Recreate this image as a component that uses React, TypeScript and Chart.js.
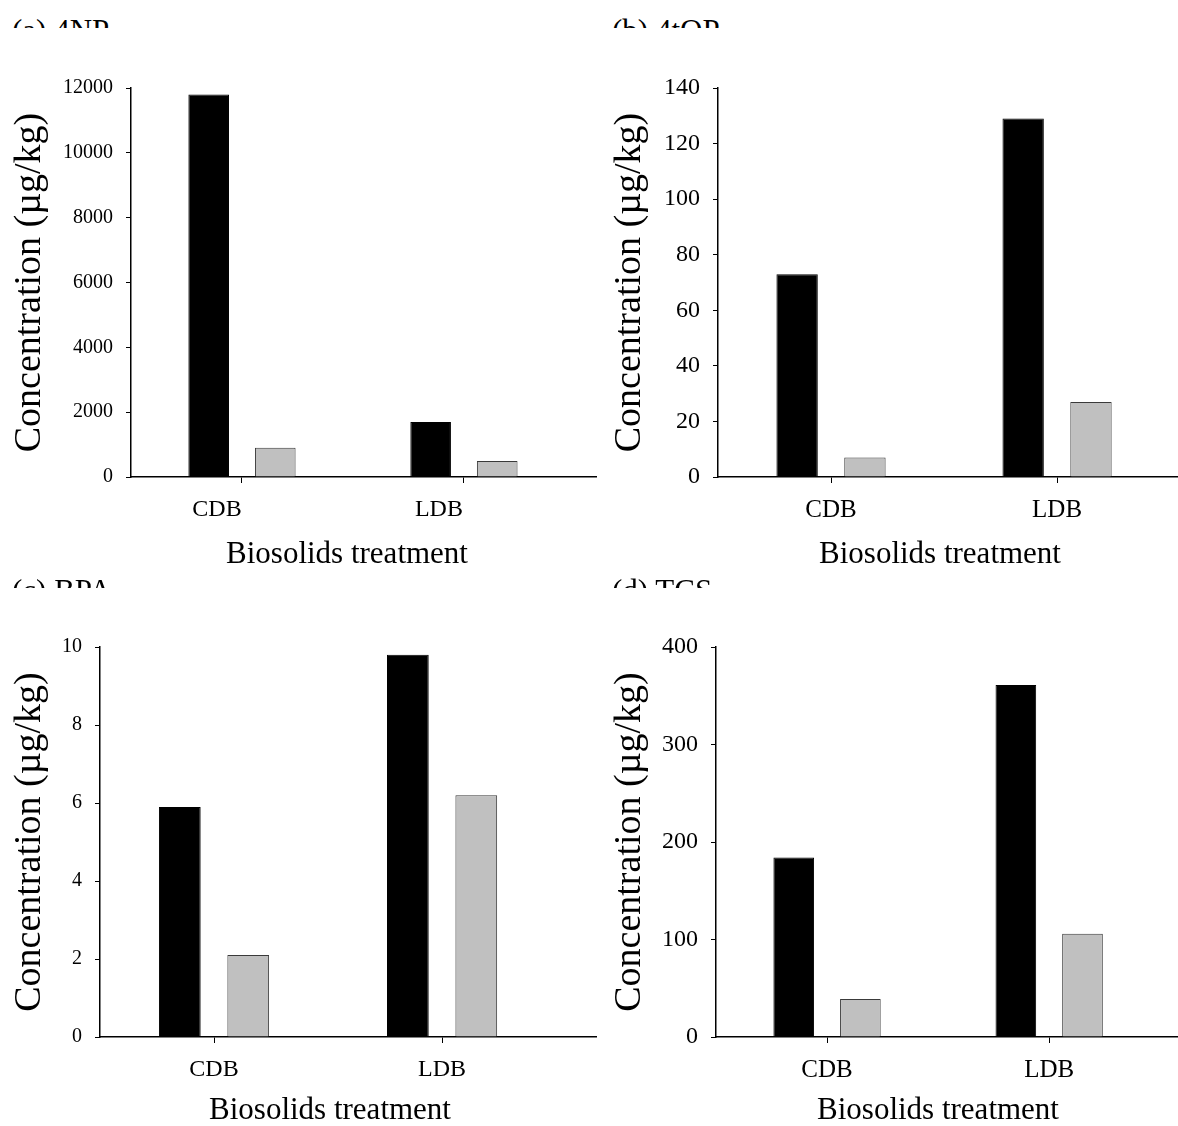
import React, { useEffect, useRef } from "react";
import { Chart, registerables } from "chart.js";

Chart.register(...registerables);

// ---- data ----
const categories = ["CDB", "LDB"];
const panelTitles = ["(a) 4NP", "(b) 4tOP", "(c) BPA", "(d) TCS"];
const xAxisTitle = "Biosolids treatment";
const yAxisTitle = "Concentration (µg/kg)";

const blackNP = [11800, 1700];
const grayNP = [900, 490];
const blackOP = [73, 129];
const grayOP = [7, 27];
const blackBPA = [5.9, 9.8];
const grayBPA = [2.1, 6.2];
const blackTCS = [184, 361];
const grayTCS = [39, 106];

const yMaxes = [12000, 140, 10, 400];
const ySteps = [2000, 20, 2, 100];

const blackSeries = [blackNP, blackOP, blackBPA, blackTCS];
const graySeries = [grayNP, grayOP, grayBPA, grayTCS];

// ---- layout (page pixels) ----
type Layout = {
  L: number; T: number; W: number; H: number;
  areaLeft: number; areaTop: number; areaRight: number; areaBottom: number;
  xMax: number; tickFont: number; catFont: number; catOffset: number; yTitlePad: number;
  titleLeft: number; titleClipTop: number; xTitleX: number; xTitleY: number;
};

const layouts: Layout[] = [
  { L: 0, T: 30, W: 600, H: 540, areaLeft: 131, areaTop: 88, areaRight: 596, areaBottom: 477, xMax: 2.095, tickFont: 20, catFont: 24, catOffset: -25, yTitlePad: 11, titleLeft: 12, titleClipTop: 0, xTitleX: 347, xTitleY: 555 },
  { L: 590, T: 30, W: 588, H: 540, areaLeft: 718, areaTop: 88, areaRight: 1178, areaBottom: 477, xMax: 2.035, tickFont: 24, catFont: 25, catOffset: 0, yTitlePad: 21, titleLeft: 612, titleClipTop: 0, xTitleX: 940, xTitleY: 555 },
  { L: 0, T: 590, W: 600, H: 536, areaLeft: 100, areaTop: 647, areaRight: 596, areaBottom: 1037, xMax: 2.175, tickFont: 20, catFont: 24, catOffset: 0, yTitlePad: 11, titleLeft: 12, titleClipTop: 560, xTitleX: 330, xTitleY: 1111 },
  { L: 590, T: 590, W: 588, H: 536, areaLeft: 716, areaTop: 647, areaRight: 1178, areaBottom: 1037, xMax: 2.08, tickFont: 24, catFont: 25, catOffset: 0, yTitlePad: 21, titleLeft: 612, titleClipTop: 560, xTitleX: 938, xTitleY: 1111 },
];

const FONT = "'Liberation Serif', 'Times New Roman', serif";

const xTitlePlugin = {
  id: "xTitleText",
  afterDraw(chart: any, _args: any, opts: any) {
    const ctx = chart.ctx;
    ctx.save();
    ctx.font = `${opts.size}px ${FONT}`;
    ctx.fillStyle = "#000";
    ctx.textAlign = "center";
    ctx.textBaseline = "middle";
    ctx.fillText(opts.text, opts.x, opts.y);
    ctx.restore();
  },
};

function Panel({ idx }: { idx: number }) {
  const ref = useRef<HTMLCanvasElement | null>(null);
  const lay = layouts[idx];

  useEffect(() => {
    if (!ref.current) return;
    const yAxisWidth = lay.areaLeft - lay.L;
    const xAxisHeight = lay.T + lay.H - lay.areaBottom;
    const chart = new Chart(ref.current, {
      type: "bar",
      data: {
        datasets: [
          {
            data: blackSeries[idx].map((v, i) => ({ x: i + 0.5, y: v })),
            backgroundColor: "#000000",
            borderColor: "#000000",
            borderWidth: 1,
          },
          {
            data: graySeries[idx].map((v, i) => ({ x: i + 0.5, y: v })),
            backgroundColor: "#c0c0c0",
            borderColor: "#3a3a3a",
            borderWidth: 1,
          },
        ],
      },
      plugins: [xTitlePlugin],
      options: {
        animation: false,
        responsive: false,
        maintainAspectRatio: false,
        categoryPercentage: 0.6,
        barPercentage: 0.61,
        layout: {
          padding: {
            left: 0,
            top: lay.areaTop - lay.T,
            right: lay.L + lay.W - lay.areaRight,
            bottom: 0,
          },
        },
        plugins: {
          legend: { display: false },
          tooltip: { enabled: false },
          title: { display: false },
          xTitleText: {
            text: xAxisTitle,
            size: 31,
            x: lay.xTitleX - lay.L,
            y: lay.xTitleY - lay.T,
          },
        },
        scales: {
          x: {
            type: "linear",
            offset: false,
            min: 0,
            max: lay.xMax,
            afterBuildTicks: (s: any) => {
              s.ticks = categories.map((_, i) => ({ value: i + 0.5 }));
            },
            afterFit: (s: any) => {
              s.height = xAxisHeight;
            },
            ticks: {
              autoSkip: false,
              maxRotation: 0,
              padding: 12,
              labelOffset: lay.catOffset,
              color: "#000",
              font: { family: FONT, size: lay.catFont },
              callback: (v: any) => categories[Math.round(Number(v) - 0.5)] ?? "",
            },
            grid: { offset: false, drawOnChartArea: false, drawTicks: true, tickLength: 6, color: "#000" },
            border: { display: true, color: "#000", width: 1.5 },
            title: { display: false },
          },
          y: {
            type: "linear",
            min: 0,
            max: yMaxes[idx],
            afterFit: (s: any) => {
              s.width = yAxisWidth;
            },
            ticks: {
              stepSize: ySteps[idx],
              padding: 13,
              color: "#000",
              font: { family: FONT, size: lay.tickFont },
              callback: (v: any) => String(v),
            },
            grid: { drawOnChartArea: false, drawTicks: true, tickLength: 5, color: "#000" },
            border: { display: true, color: "#000", width: 1.5 },
            title: {
              display: true,
              text: yAxisTitle,
              color: "#000",
              font: { family: FONT, size: 38, lineHeight: 1 },
              padding: { top: lay.yTitlePad, bottom: 0 },
            },
          },
        },
      },
    } as any);
    return () => chart.destroy();
  }, [idx]);

  return (
    <>
      <div
        style={{
          position: "absolute",
          left: lay.titleLeft,
          top: lay.titleClipTop,
          width: 300,
          height: 28,
          overflow: "hidden",
        }}
      >
        <span
          style={{
            position: "absolute",
            left: 0,
            top: 14.6,
            fontFamily: FONT,
            fontSize: 31,
            lineHeight: 1,
            whiteSpace: "nowrap",
            color: "#000",
          }}
        >
          {panelTitles[idx]}
        </span>
      </div>
      <canvas
        ref={ref}
        width={lay.W}
        height={lay.H}
        style={{ position: "absolute", left: lay.L, top: lay.T, width: lay.W, height: lay.H }}
      />
    </>
  );
}

export default function App() {
  return (
    <div
      style={{
        position: "absolute",
        left: 0,
        top: 0,
        width: 1178,
        height: 1126,
        background: "#fff",
        overflow: "hidden",
      }}
    >
      {layouts.map((_, i) => (
        <Panel key={i} idx={i} />
      ))}
    </div>
  );
}
